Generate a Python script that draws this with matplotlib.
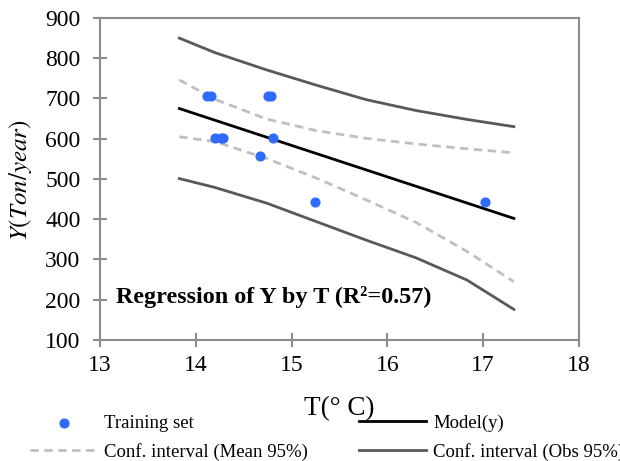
import matplotlib
matplotlib.use('Agg')
import matplotlib.pyplot as plt

plt.rcParams['font.family'] = ['Liberation Serif', 'DejaVu Serif']
plt.rcParams['mathtext.fontset'] = 'stix'

# Training points
train_T = [14.12, 14.155, 14.75, 14.79, 14.20, 14.26, 14.29, 14.81, 14.67, 15.24, 17.02]
train_Y = [705, 705, 705, 705, 603, 603, 603, 603, 558, 443, 443]

# Model line and confidence bands
model_T = [13.83, 17.32]
model_Y = [675, 402]

band_T = [13.83, 14.2, 14.74, 15.26, 15.78, 16.3, 16.83, 17.32]
mean_hi = [746, 698, 649, 620, 601, 587, 575, 565]
mean_lo = [605, 593, 551, 502, 448, 392, 320, 245]
obs_hi = [850, 814, 771, 733, 697, 670, 648, 630]
obs_lo = [501, 479, 440, 394, 348, 304, 249, 176]

fig = plt.figure(figsize=(6.2, 4.61), dpi=100)
ax = fig.add_axes([0.161, 0.2625, 0.773, 0.6985])

pts = ax.scatter(train_T, train_Y, s=40, color='#2f6bff', zorder=5, label='Training set')
mdl, = ax.plot(model_T, model_Y, color='black', lw=2, label='Model(y)')
cm, = ax.plot(band_T, mean_hi, color='#bfbfbf', lw=2, ls=(0, (3, 2)),
              label='Conf. interval (Mean 95%)')
ax.plot(band_T, mean_lo, color='#bfbfbf', lw=2, ls=(0, (3, 2)))
co, = ax.plot(band_T, obs_hi, color='#595959', lw=2, label='Conf. interval (Obs 95%)')
ax.plot(band_T, obs_lo, color='#595959', lw=2)

ax.set_xlim(13, 18)
ax.set_ylim(100, 900)
ax.set_xticks(range(13, 19))
ax.set_yticks(range(100, 901, 100))
ax.tick_params(direction='inout', length=10, width=1.5, color='#8c8c8c',
               labelsize=17)
ax.tick_params(axis='y', pad=9)
ax.tick_params(axis='x', pad=6)
for sp in ax.spines.values():
    sp.set_color('#8c8c8c')
    sp.set_linewidth(1.5)

ax.set_xlabel('T(° C)', fontsize=19.5, labelpad=14)
ax.set_ylabel(r'$Y(Ton/year)$', fontsize=18)
ax.yaxis.set_label_coords(-0.138, 0.497)

ax.text(0.033, 0.135, 'Regression of Y by T (R²=0.57)', transform=ax.transAxes,
        fontsize=17.4, fontweight='bold', va='center', ha='left')

fig.legend([pts, cm, mdl, co],
           ['Training set', 'Conf. interval (Mean 95%)', 'Model(y)', 'Conf. interval (Obs 95%)'],
           ncol=2, loc='upper left', bbox_to_anchor=(0.048, 0.101), frameon=False,
           fontsize=13.5, handlelength=3.6, handletextpad=0.37, columnspacing=2.7,
           labelspacing=0.6, borderaxespad=0, borderpad=0)

fig.savefig('out.png', dpi=100)
